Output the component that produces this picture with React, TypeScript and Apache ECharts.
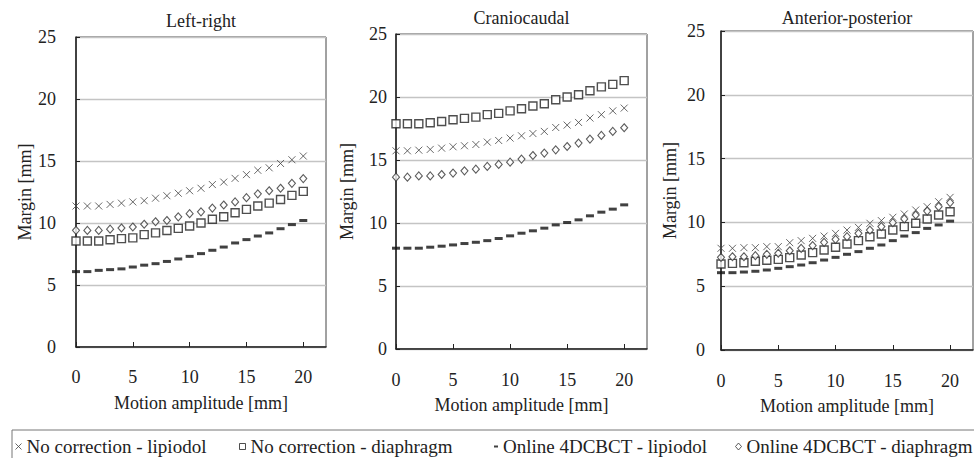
import React, { useEffect, useRef } from "react";
import * as echarts from "echarts";

// ---------- data ----------
const amplitudes = [0, 1, 2, 3, 4, 5, 6, 7, 8, 9, 10, 11, 12, 13, 14, 15, 16, 17, 18, 19, 20];

const seriesNames = [
  "No correction - lipiodol",
  "No correction - diaphragm",
  "Online 4DCBCT - lipiodol",
  "Online 4DCBCT - diaphragm",
];

const panelTitles = ["Left-right", "Craniocaudal", "Anterior-posterior"];
const xTickValues = [0, 5, 10, 15, 20];
const yTickValues = [0, 5, 10, 15, 20, 25];

// Left-right
const lrNoCorrLipiodol = [11.37, 11.37, 11.37, 11.5, 11.6, 11.7, 11.8, 12.0, 12.2, 12.4, 12.6, 12.8, 13.1, 13.3, 13.6, 13.9, 14.25, 14.45, 14.8, 15.1, 15.4];
const lrNoCorrDiaphragm = [8.55, 8.55, 8.55, 8.65, 8.74, 8.8, 9.06, 9.2, 9.4, 9.57, 9.76, 10.0, 10.3, 10.5, 10.83, 11.1, 11.37, 11.6, 11.9, 12.23, 12.55];
const lrOnlineLipiodol = [6.08, 6.08, 6.18, 6.24, 6.3, 6.45, 6.6, 6.72, 6.9, 7.1, 7.31, 7.53, 7.8, 8.06, 8.39, 8.66, 8.95, 9.2, 9.54, 9.87, 10.2];
const lrOnlineDiaphragm = [9.41, 9.4, 9.4, 9.5, 9.6, 9.68, 9.9, 10.1, 10.2, 10.5, 10.75, 10.9, 11.2, 11.45, 11.7, 12.04, 12.35, 12.6, 12.8, 13.2, 13.58];

// Craniocaudal
const ccNoCorrLipiodol = [15.73, 15.73, 15.78, 15.84, 15.94, 16.05, 16.13, 16.23, 16.42, 16.55, 16.74, 16.92, 17.1, 17.27, 17.58, 17.77, 17.98, 18.33, 18.6, 18.9, 19.12];
const ccNoCorrDiaphragm = [17.88, 17.88, 17.88, 17.96, 18.06, 18.19, 18.3, 18.4, 18.6, 18.7, 18.9, 19.07, 19.28, 19.46, 19.78, 20.0, 20.18, 20.5, 20.8, 21.0, 21.3];
const ccOnlineLipiodol = [8.0, 8.0, 8.0, 8.08, 8.16, 8.26, 8.37, 8.47, 8.6, 8.77, 8.98, 9.19, 9.38, 9.59, 9.85, 10.04, 10.25, 10.57, 10.86, 11.1, 11.44];
const ccOnlineDiaphragm = [13.64, 13.64, 13.74, 13.74, 13.85, 13.96, 14.14, 14.27, 14.49, 14.65, 14.83, 15.07, 15.36, 15.55, 15.81, 16.07, 16.34, 16.66, 16.95, 17.27, 17.56];

// Anterior-posterior
const apNoCorrLipiodol = [7.97, 7.97, 8.02, 8.02, 8.1, 8.1, 8.41, 8.57, 8.75, 8.93, 9.14, 9.4, 9.61, 9.93, 10.14, 10.4, 10.66, 10.97, 11.23, 11.62, 11.96];
const apNoCorrDiaphragm = [6.74, 6.79, 6.84, 6.95, 7.03, 7.1, 7.24, 7.45, 7.63, 7.84, 8.05, 8.31, 8.57, 8.88, 9.09, 9.4, 9.67, 9.93, 10.27, 10.58, 10.84];
const apOnlineLipiodol = [6.06, 6.06, 6.11, 6.17, 6.27, 6.4, 6.53, 6.66, 6.84, 7.05, 7.26, 7.5, 7.71, 7.97, 8.23, 8.57, 8.93, 9.2, 9.53, 9.8, 10.1];
const apOnlineDiaphragm = [7.26, 7.31, 7.31, 7.39, 7.5, 7.58, 7.78, 7.97, 8.18, 8.44, 8.67, 8.88, 9.14, 9.4, 9.67, 9.98, 10.27, 10.58, 10.89, 11.23, 11.55];

const panelData = [
  [lrNoCorrLipiodol, lrNoCorrDiaphragm, lrOnlineLipiodol, lrOnlineDiaphragm],
  [ccNoCorrLipiodol, ccNoCorrDiaphragm, ccOnlineLipiodol, ccOnlineDiaphragm],
  [apNoCorrLipiodol, apNoCorrDiaphragm, apOnlineLipiodol, apOnlineDiaphragm],
];

// ---------- styling / layout ----------
const FONT = "Liberation Serif, serif";
const TEXT = "#222";
const CROSS = "path://M0,0L10,10M0,10L10,0";

const txt = (size: number) => ({
  fontFamily: FONT,
  fontSize: size,
  fontWeight: "normal" as const,
  color: TEXT,
});

const panels = [
  { left: 76, top: 37, width: 250, height: 310, ySpacer: 12, yNameGap: 42, xLabelMargin: 21, titleY: 21 },
  { left: 396, top: 34, width: 251, height: 315, ySpacer: 1, yNameGap: 40, xLabelMargin: 22, titleY: 18 },
  { left: 721, top: 31, width: 252, height: 319, ySpacer: 8, yNameGap: 42, xLabelMargin: 22, titleY: 18 },
];

const symbolStyles = [
  { symbol: CROSS, symbolSize: 7, itemStyle: { color: "rgba(0,0,0,0)", borderColor: "#444", borderWidth: 1 } },
  { symbol: "rect", symbolSize: 8, itemStyle: { color: "#fff", borderColor: "#222", borderWidth: 1.4 } },
  { symbol: "rect", symbolSize: [8, 3], itemStyle: { color: "#111", borderWidth: 0 } },
  { symbol: "diamond", symbolSize: [7, 8], itemStyle: { color: "#fff", borderColor: "#333", borderWidth: 1.1 } },
];

const legendLayout = [
  { left: 15, icon: CROSS, w: 6, h: 6, itemStyle: { color: "rgba(0,0,0,0)", borderColor: "#444", borderWidth: 1 } },
  { left: 239, icon: "rect", w: 6, h: 6, itemStyle: { color: "#fff", borderColor: "#222", borderWidth: 1 } },
  { left: 494, icon: "rect", w: 4, h: 2, itemStyle: { color: "#111", borderWidth: 0 } },
  { left: 735, icon: "diamond", w: 6, h: 7, itemStyle: { color: "#fff", borderColor: "#333", borderWidth: 1 } },
];

export default function App() {
  const ref = useRef<HTMLDivElement>(null);

  useEffect(() => {
    if (!ref.current) return;
    const chart = echarts.init(ref.current, undefined, { renderer: "svg" });

    const grid = panels.map((p) => ({
      left: p.left,
      top: p.top,
      width: p.width,
      height: p.height,
      show: true,
      borderColor: "#444",
      borderWidth: 1,
      backgroundColor: "#fff",
    }));

    const xAxis = panels.map((p, i) => ({
      type: "value",
      gridIndex: i,
      min: xTickValues[0],
      max: 22,
      interval: 5,
      name: "Motion amplitude [mm]",
      nameLocation: "middle",
      nameGap: 47,
      nameTextStyle: txt(18),
      axisLine: { show: true, lineStyle: { color: "#222", width: 1.5 } },
      axisTick: { show: true, inside: true, length: 5, lineStyle: { color: "#222", width: 1 } },
      axisLabel: {
        ...txt(18),
        margin: p.xLabelMargin,
        showMaxLabel: false,
        formatter: (v: number) => (xTickValues.includes(v) ? String(v) : ""),
      },
      splitLine: { show: false },
    }));

    const yAxis = panels.map((p, i) => ({
      type: "value",
      gridIndex: i,
      min: yTickValues[0],
      max: yTickValues[yTickValues.length - 1],
      interval: 5,
      name: "Margin [mm]",
      nameLocation: "middle",
      nameGap: p.yNameGap,
      nameTextStyle: txt(18),
      axisLine: { show: true, lineStyle: { color: "#222", width: 1.5 } },
      axisTick: { show: true, inside: true, length: 4, lineStyle: { color: "#222", width: 1 } },
      axisLabel: {
        ...txt(18),
        formatter: (v: number) => "{n|" + v + "}{s|\u00a0}",
        rich: {
          n: { ...txt(18) },
          s: { fontFamily: FONT, fontSize: 18, width: p.ySpacer },
        },
      },
      splitLine: { show: true, lineStyle: { color: "#c4c4c4", width: 1.3 } },
    }));

    const series: any[] = [];
    panelData.forEach((sets, pi) => {
      sets.forEach((vals, si) => {
        series.push({
          type: "scatter",
          name: seriesNames[si],
          xAxisIndex: pi,
          yAxisIndex: pi,
          clip: false,
          symbol: symbolStyles[si].symbol,
          symbolSize: symbolStyles[si].symbolSize,
          itemStyle: symbolStyles[si].itemStyle,
          emphasis: { disabled: true },
          data: amplitudes.map((x, k) => [x, vals[k]]),
          z: 3 + si,
        });
      });
    });

    const legend = seriesNames.map((name, i) => ({
      data: [{ name, icon: legendLayout[i].icon, itemStyle: legendLayout[i].itemStyle }],
      left: legendLayout[i].left,
      top: 437,
      padding: 0,
      itemWidth: legendLayout[i].w,
      itemHeight: legendLayout[i].h,
      itemGap: 0,
      selectedMode: false,
      textStyle: txt(19),
    }));

    const graphic: any[] = [
      {
        type: "rect",
        shape: { x: 12, y: 430, width: 980, height: 40 },
        style: { fill: "none", stroke: "#777", lineWidth: 1 },
        silent: true,
      },
      ...panels.map((p, i) => ({
        type: "text",
        x: p.left + p.width / 2,
        y: p.titleY,
        style: {
          text: panelTitles[i],
          fontFamily: FONT,
          fontSize: 18,
          fill: TEXT,
          align: "center",
          verticalAlign: "middle",
        },
        silent: true,
      })),
    ];

    chart.setOption({
      animation: false,
      backgroundColor: "#fff",
      grid,
      xAxis,
      yAxis,
      series,
      legend,
      graphic,
    });

    return () => chart.dispose();
  }, []);

  return (
    <div
      ref={ref}
      style={{ position: "absolute", left: 0, top: 0, width: 974, height: 458, background: "#fff" }}
    />
  );
}
